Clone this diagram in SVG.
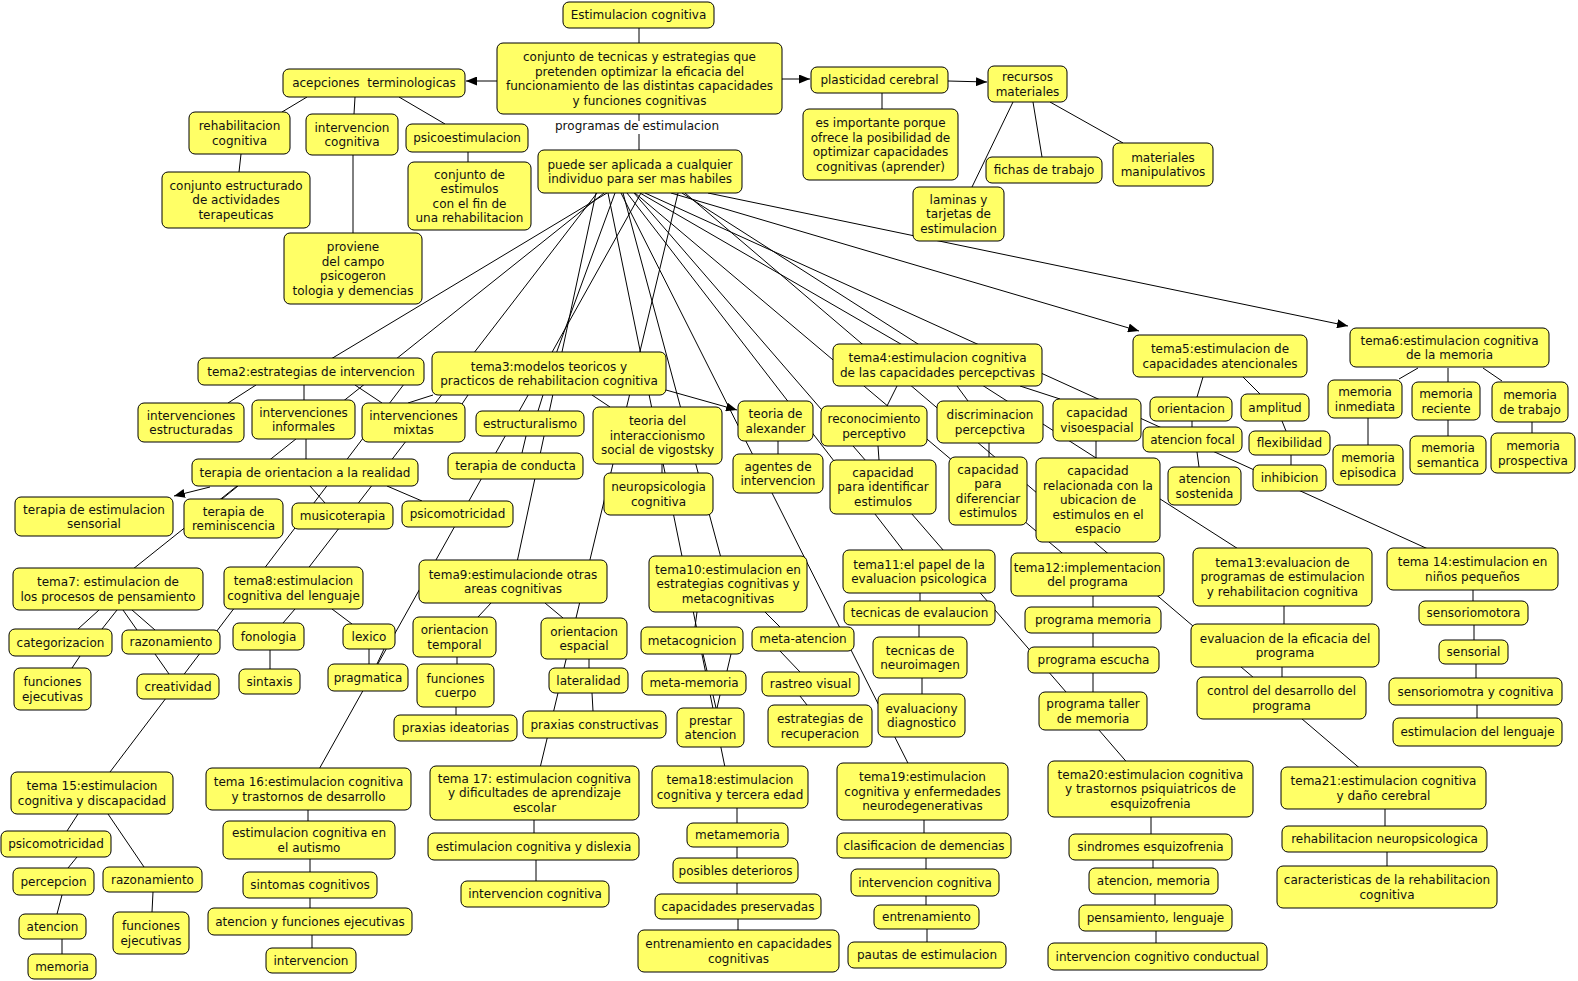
<svg xmlns="http://www.w3.org/2000/svg" width="1578" height="981" viewBox="0 0 1578 981">
<defs>
<style>
.n rect{fill:#ffff66;stroke:#000;stroke-width:1}
.n text,.lbl{font-family:"DejaVu Sans",Verdana,sans-serif;font-size:12px;fill:#111;text-anchor:middle}
#links line{stroke:#000;stroke-width:1;fill:none}
</style>
<marker id="ah" viewBox="0 0 11 9" refX="11" refY="4.5" markerWidth="11" markerHeight="9" markerUnits="userSpaceOnUse" orient="auto"><path d="M0,0 L11,4.5 L0,9 z" fill="#000"/></marker>
</defs>
<rect width="1578" height="981" fill="#fff"/>
<g id="links">
<line x1="607" y1="193" x2="311" y2="371"/>
<line x1="615" y1="193" x2="549" y2="373"/>
<line x1="640" y1="193" x2="937" y2="365"/>
<line x1="671" y1="193" x2="1139" y2="331" marker-end="url(#ah)"/>
<line x1="708" y1="193" x2="1348" y2="326" marker-end="url(#ah)"/>
<line x1="604" y1="193" x2="108" y2="589"/>
<line x1="597" y1="193" x2="293" y2="588"/>
<line x1="596" y1="193" x2="513" y2="581"/>
<line x1="623" y1="193" x2="728" y2="584"/>
<line x1="627" y1="193" x2="919" y2="571"/>
<line x1="635" y1="193" x2="1087" y2="574"/>
<line x1="682" y1="193" x2="1282" y2="577"/>
<line x1="645" y1="193" x2="1472" y2="569"/>
<line x1="420" y1="363" x2="110" y2="772"/>
<line x1="641" y1="193" x2="308" y2="789"/>
<line x1="678" y1="193" x2="534" y2="793"/>
<line x1="608" y1="193" x2="729" y2="787"/>
<line x1="621" y1="193" x2="922" y2="791"/>
<line x1="634" y1="193" x2="1150" y2="789"/>
<line x1="685" y1="193" x2="1383" y2="788"/>
<line x1="639" y1="28" x2="639" y2="43"/>
<line x1="639" y1="114" x2="639" y2="121"/>
<line x1="639" y1="134" x2="639" y2="150"/>
<line x1="497" y1="81" x2="466" y2="81" marker-end="url(#ah)"/>
<line x1="782" y1="79" x2="810" y2="79" marker-end="url(#ah)"/>
<line x1="948" y1="81" x2="987" y2="82" marker-end="url(#ah)"/>
<line x1="882" y1="93" x2="882" y2="109"/>
<line x1="1033" y1="102" x2="1042" y2="157"/>
<line x1="1050" y1="102" x2="1123" y2="143"/>
<line x1="1013" y1="102" x2="972" y2="187"/>
<line x1="307" y1="97" x2="282" y2="112"/>
<line x1="355" y1="97" x2="354" y2="114"/>
<line x1="399" y1="97" x2="445" y2="124"/>
<line x1="241" y1="154" x2="239" y2="172"/>
<line x1="353" y1="155" x2="353" y2="233"/>
<line x1="468" y1="152" x2="468" y2="162"/>
<line x1="256" y1="385" x2="228" y2="403"/>
<line x1="304" y1="385" x2="304" y2="400"/>
<line x1="355" y1="385" x2="382" y2="403"/>
<line x1="306" y1="439" x2="306" y2="459"/>
<line x1="210" y1="487" x2="174" y2="496" marker-end="url(#ah)"/>
<line x1="238" y1="486" x2="222" y2="499"/>
<line x1="310" y1="486" x2="325" y2="503"/>
<line x1="387" y1="486" x2="422" y2="501"/>
<line x1="543" y1="395" x2="538" y2="411"/>
<line x1="433" y1="395" x2="408" y2="403"/>
<line x1="468" y1="395" x2="462" y2="404"/>
<line x1="526" y1="436" x2="522" y2="453"/>
<line x1="592" y1="395" x2="610" y2="407"/>
<line x1="662" y1="464" x2="662" y2="473"/>
<line x1="666" y1="390" x2="737" y2="410" marker-end="url(#ah)"/>
<line x1="778" y1="441" x2="778" y2="454"/>
<line x1="897" y1="386" x2="887" y2="406"/>
<line x1="957" y1="386" x2="968" y2="401"/>
<line x1="1020" y1="386" x2="1060" y2="399"/>
<line x1="878" y1="446" x2="879" y2="460"/>
<line x1="989" y1="443" x2="989" y2="457"/>
<line x1="1096" y1="441" x2="1096" y2="458"/>
<line x1="1203" y1="377" x2="1197" y2="397"/>
<line x1="1243" y1="377" x2="1260" y2="394"/>
<line x1="1192" y1="421" x2="1192" y2="427"/>
<line x1="1282" y1="421" x2="1286" y2="431"/>
<line x1="1291" y1="455" x2="1291" y2="465"/>
<line x1="1197" y1="452" x2="1199" y2="467"/>
<line x1="1418" y1="368" x2="1399" y2="379"/>
<line x1="1448" y1="368" x2="1448" y2="382"/>
<line x1="1483" y1="368" x2="1502" y2="381"/>
<line x1="1368" y1="418" x2="1368" y2="445"/>
<line x1="1448" y1="420" x2="1448" y2="436"/>
<line x1="1532" y1="422" x2="1532" y2="433"/>
<line x1="99" y1="610" x2="78" y2="629"/>
<line x1="117" y1="610" x2="102" y2="629"/>
<line x1="123" y1="610" x2="137" y2="630"/>
<line x1="132" y1="610" x2="155" y2="630"/>
<line x1="80" y1="656" x2="72" y2="668"/>
<line x1="155" y1="654" x2="169" y2="674"/>
<line x1="295" y1="609" x2="283" y2="623"/>
<line x1="332" y1="609" x2="352" y2="624"/>
<line x1="270" y1="650" x2="270" y2="669"/>
<line x1="369" y1="649" x2="369" y2="664"/>
<line x1="384" y1="649" x2="377" y2="664"/>
<line x1="78" y1="814" x2="67" y2="831"/>
<line x1="108" y1="814" x2="144" y2="867"/>
<line x1="77" y1="857" x2="68" y2="868"/>
<line x1="62" y1="895" x2="57" y2="914"/>
<line x1="62" y1="939" x2="62" y2="954"/>
<line x1="153" y1="892" x2="152" y2="912"/>
<line x1="308" y1="810" x2="308" y2="821"/>
<line x1="310" y1="859" x2="310" y2="872"/>
<line x1="310" y1="898" x2="310" y2="908"/>
<line x1="312" y1="935" x2="312" y2="948"/>
<line x1="491" y1="603" x2="478" y2="617"/>
<line x1="545" y1="603" x2="563" y2="618"/>
<line x1="457" y1="657" x2="457" y2="664"/>
<line x1="456" y1="707" x2="456" y2="715"/>
<line x1="589" y1="659" x2="589" y2="668"/>
<line x1="592" y1="693" x2="593" y2="711"/>
<line x1="534" y1="820" x2="534" y2="833"/>
<line x1="536" y1="860" x2="536" y2="881"/>
<line x1="697" y1="612" x2="695" y2="627"/>
<line x1="765" y1="612" x2="780" y2="627"/>
<line x1="703" y1="654" x2="707" y2="671"/>
<line x1="731" y1="654" x2="727" y2="671"/>
<line x1="713" y1="695" x2="716" y2="708"/>
<line x1="720" y1="695" x2="717" y2="708"/>
<line x1="780" y1="651" x2="800" y2="672"/>
<line x1="800" y1="696" x2="807" y2="705"/>
<line x1="737" y1="808" x2="737" y2="823"/>
<line x1="737" y1="847" x2="737" y2="858"/>
<line x1="737" y1="883" x2="737" y2="894"/>
<line x1="738" y1="919" x2="738" y2="930"/>
<line x1="920" y1="593" x2="920" y2="601"/>
<line x1="919" y1="625" x2="919" y2="637"/>
<line x1="922" y1="678" x2="922" y2="694"/>
<line x1="924" y1="820" x2="924" y2="833"/>
<line x1="926" y1="858" x2="926" y2="869"/>
<line x1="926" y1="896" x2="926" y2="905"/>
<line x1="927" y1="929" x2="927" y2="942"/>
<line x1="1093" y1="596" x2="1093" y2="607"/>
<line x1="1093" y1="633" x2="1093" y2="647"/>
<line x1="1093" y1="673" x2="1093" y2="692"/>
<line x1="1151" y1="817" x2="1151" y2="834"/>
<line x1="1153" y1="860" x2="1153" y2="868"/>
<line x1="1155" y1="894" x2="1155" y2="905"/>
<line x1="1156" y1="931" x2="1156" y2="943"/>
<line x1="1284" y1="606" x2="1284" y2="624"/>
<line x1="1282" y1="667" x2="1282" y2="677"/>
<line x1="1473" y1="590" x2="1473" y2="601"/>
<line x1="1474" y1="625" x2="1474" y2="640"/>
<line x1="1476" y1="664" x2="1476" y2="678"/>
<line x1="1477" y1="705" x2="1477" y2="718"/>
<line x1="1385" y1="809" x2="1385" y2="826"/>
<line x1="1387" y1="852" x2="1387" y2="866"/>
</g>
<text class="lbl" x="637" y="130">programas de estimulacion</text>
<g id="n_estim" class="n"><rect x="563" y="2" width="151" height="26" rx="6"/><text><tspan x="638.5" y="19.2">Estimulacion cognitiva</tspan></text></g>
<g id="n_conjunto" class="n"><rect x="497" y="43" width="285" height="71" rx="6"/><text><tspan x="639.5" y="61">conjunto de tecnicas y estrategias que</tspan><tspan x="639.5" y="75.5">pretenden optimizar la eficacia del</tspan><tspan x="639.5" y="90">funcionamiento de las distintas capacidades</tspan><tspan x="639.5" y="104.5">y funciones cognitivas</tspan></text></g>
<g id="n_acep" class="n"><rect x="283" y="69" width="182" height="28" rx="6"/><text style="white-space:pre"><tspan x="374" y="87.2">acepciones  terminologicas</tspan></text></g>
<g id="n_rehab" class="n"><rect x="189" y="112" width="101" height="42" rx="6"/><text><tspan x="239.5" y="130">rehabilitacion</tspan><tspan x="239.5" y="144.5">cognitiva</tspan></text></g>
<g id="n_interv" class="n"><rect x="306" y="114" width="92" height="41" rx="6"/><text><tspan x="352" y="131.5">intervencion</tspan><tspan x="352" y="146">cognitiva</tspan></text></g>
<g id="n_psicoe" class="n"><rect x="406" y="124" width="122" height="28" rx="6"/><text><tspan x="467" y="142.2">psicoestimulacion</tspan></text></g>
<g id="n_cestr" class="n"><rect x="162" y="172" width="148" height="56" rx="6"/><text><tspan x="236" y="189.7">conjunto estructurado</tspan><tspan x="236" y="204.2">de actividades</tspan><tspan x="236" y="218.7">terapeuticas</tspan></text></g>
<g id="n_proviene" class="n"><rect x="284" y="233" width="138" height="71" rx="6"/><text><tspan x="353" y="251">proviene</tspan><tspan x="353" y="265.5">del campo</tspan><tspan x="353" y="280">psicogeron</tspan><tspan x="353" y="294.5">tologia y demencias</tspan></text></g>
<g id="n_cestim" class="n"><rect x="408" y="162" width="123" height="68" rx="6"/><text><tspan x="469.5" y="178.5">conjunto de</tspan><tspan x="469.5" y="193">estimulos</tspan><tspan x="469.5" y="207.5">con el fin de</tspan><tspan x="469.5" y="222">una rehabilitacion</tspan></text></g>
<g id="n_puede" class="n"><rect x="538" y="150" width="204" height="43" rx="6"/><text><tspan x="640" y="168.5">puede ser aplicada a cualquier</tspan><tspan x="640" y="183">individuo para ser mas habiles</tspan></text></g>
<g id="n_plast" class="n"><rect x="811" y="67" width="137" height="26" rx="6"/><text><tspan x="879.5" y="84.2">plasticidad cerebral</tspan></text></g>
<g id="n_recursos" class="n"><rect x="988" y="66" width="79" height="36" rx="6"/><text><tspan x="1027.5" y="81">recursos</tspan><tspan x="1027.5" y="95.5">materiales</tspan></text></g>
<g id="n_esimp" class="n"><rect x="803" y="109" width="155" height="71" rx="6"/><text><tspan x="880.5" y="127">es importante porque</tspan><tspan x="880.5" y="141.5">ofrece la posibilidad de</tspan><tspan x="880.5" y="156">optimizar capacidades</tspan><tspan x="880.5" y="170.5">cognitivas (aprender)</tspan></text></g>
<g id="n_fichas" class="n"><rect x="986" y="157" width="116" height="26" rx="6"/><text><tspan x="1044" y="174.2">fichas de trabajo</tspan></text></g>
<g id="n_matman" class="n"><rect x="1113" y="143" width="100" height="43" rx="6"/><text><tspan x="1163" y="161.5">materiales</tspan><tspan x="1163" y="176">manipulativos</tspan></text></g>
<g id="n_laminas" class="n"><rect x="913" y="187" width="91" height="54" rx="6"/><text><tspan x="958.5" y="203.7">laminas y</tspan><tspan x="958.5" y="218.2">tarjetas de</tspan><tspan x="958.5" y="232.7">estimulacion</tspan></text></g>
<g id="n_tema2" class="n"><rect x="198" y="358" width="226" height="27" rx="6"/><text><tspan x="311" y="375.7">tema2:estrategias de intervencion</tspan></text></g>
<g id="n_tema3" class="n"><rect x="432" y="352" width="234" height="43" rx="6"/><text><tspan x="549" y="370.5">tema3:modelos teoricos y</tspan><tspan x="549" y="385">practicos de rehabilitacion cognitiva</tspan></text></g>
<g id="n_tema4" class="n"><rect x="833" y="344" width="209" height="42" rx="6"/><text><tspan x="937.5" y="362">tema4:estimulacion cognitiva</tspan><tspan x="937.5" y="376.5">de las capacidades percepctivas</tspan></text></g>
<g id="n_tema5" class="n"><rect x="1133" y="335" width="174" height="42" rx="6"/><text><tspan x="1220" y="353">tema5:estimulacion de</tspan><tspan x="1220" y="367.5">capacidades atencionales</tspan></text></g>
<g id="n_tema6" class="n"><rect x="1350" y="328" width="199" height="39" rx="6"/><text><tspan x="1449.5" y="344.5">tema6:estimulacion cognitiva</tspan><tspan x="1449.5" y="359">de la memoria</tspan></text></g>
<g id="n_iestr" class="n"><rect x="138" y="403" width="106" height="39" rx="6"/><text><tspan x="191" y="419.5">intervenciones</tspan><tspan x="191" y="434">estructuradas</tspan></text></g>
<g id="n_iinf" class="n"><rect x="252" y="400" width="103" height="39" rx="6"/><text><tspan x="303.5" y="416.5">intervenciones</tspan><tspan x="303.5" y="431">informales</tspan></text></g>
<g id="n_imix" class="n"><rect x="362" y="403" width="103" height="39" rx="6"/><text><tspan x="413.5" y="419.5">intervenciones</tspan><tspan x="413.5" y="434">mixtas</tspan></text></g>
<g id="n_tor" class="n"><rect x="192" y="459" width="226" height="27" rx="6"/><text><tspan x="305" y="476.7">terapia de orientacion a la realidad</tspan></text></g>
<g id="n_tes" class="n"><rect x="15" y="497" width="158" height="39" rx="6"/><text><tspan x="94" y="513.5">terapia de estimulacion</tspan><tspan x="94" y="528">sensorial</tspan></text></g>
<g id="n_trem" class="n"><rect x="184" y="499" width="99" height="39" rx="6"/><text><tspan x="233.5" y="515.5">terapia de</tspan><tspan x="233.5" y="530">reminiscencia</tspan></text></g>
<g id="n_musico" class="n"><rect x="292" y="503" width="101" height="26" rx="6"/><text><tspan x="342.5" y="520.2">musicoterapia</tspan></text></g>
<g id="n_psicom" class="n"><rect x="402" y="501" width="111" height="26" rx="6"/><text><tspan x="457.5" y="518.2">psicomotricidad</tspan></text></g>
<g id="n_estruc" class="n"><rect x="476" y="411" width="108" height="25" rx="6"/><text><tspan x="530" y="427.7">estructuralismo</tspan></text></g>
<g id="n_tcond" class="n"><rect x="448" y="453" width="135" height="26" rx="6"/><text><tspan x="515.5" y="470.2">terapia de conducta</tspan></text></g>
<g id="n_vigo" class="n"><rect x="593" y="407" width="129" height="57" rx="6"/><text><tspan x="657.5" y="425.2">teoria del</tspan><tspan x="657.5" y="439.7">interaccionismo</tspan><tspan x="657.5" y="454.2">social de vigostsky</tspan></text></g>
<g id="n_neuro" class="n"><rect x="604" y="473" width="109" height="42" rx="6"/><text><tspan x="658.5" y="491">neuropsicologia</tspan><tspan x="658.5" y="505.5">cognitiva</tspan></text></g>
<g id="n_alex" class="n"><rect x="738" y="401" width="75" height="40" rx="6"/><text><tspan x="775.5" y="418">teoria de</tspan><tspan x="775.5" y="432.5">alexander</tspan></text></g>
<g id="n_agentes" class="n"><rect x="733" y="454" width="90" height="39" rx="6"/><text><tspan x="778" y="470.5">agentes de</tspan><tspan x="778" y="485">intervencion</tspan></text></g>
<g id="n_recon" class="n"><rect x="821" y="406" width="106" height="40" rx="6"/><text><tspan x="874" y="423">reconocimiento</tspan><tspan x="874" y="437.5">perceptivo</tspan></text></g>
<g id="n_discr" class="n"><rect x="937" y="401" width="106" height="42" rx="6"/><text><tspan x="990" y="419">discriminacion</tspan><tspan x="990" y="433.5">percepctiva</tspan></text></g>
<g id="n_visoe" class="n"><rect x="1053" y="399" width="88" height="42" rx="6"/><text><tspan x="1097" y="417">capacidad</tspan><tspan x="1097" y="431.5">visoespacial</tspan></text></g>
<g id="n_ident" class="n"><rect x="830" y="460" width="106" height="54" rx="6"/><text><tspan x="883" y="476.7">capacidad</tspan><tspan x="883" y="491.2">para identificar</tspan><tspan x="883" y="505.7">estimulos</tspan></text></g>
<g id="n_difer" class="n"><rect x="949" y="457" width="78" height="68" rx="6"/><text><tspan x="988" y="473.5">capacidad</tspan><tspan x="988" y="488">para</tspan><tspan x="988" y="502.5">diferenciar</tspan><tspan x="988" y="517">estimulos</tspan></text></g>
<g id="n_relac" class="n"><rect x="1036" y="458" width="124" height="84" rx="6"/><text><tspan x="1098" y="475.2">capacidad</tspan><tspan x="1098" y="489.7">relacionada con la</tspan><tspan x="1098" y="504.2">ubicacion de</tspan><tspan x="1098" y="518.7">estimulos en el</tspan><tspan x="1098" y="533.2">espacio</tspan></text></g>
<g id="n_orient5" class="n"><rect x="1150" y="397" width="82" height="24" rx="6"/><text><tspan x="1191" y="413.2">orientacion</tspan></text></g>
<g id="n_ampl" class="n"><rect x="1241" y="394" width="68" height="27" rx="6"/><text><tspan x="1275" y="411.7">amplitud</tspan></text></g>
<g id="n_focal" class="n"><rect x="1143" y="427" width="99" height="25" rx="6"/><text><tspan x="1192.5" y="443.7">atencion focal</tspan></text></g>
<g id="n_flex" class="n"><rect x="1249" y="431" width="81" height="24" rx="6"/><text><tspan x="1289.5" y="447.2">flexibilidad</tspan></text></g>
<g id="n_sost" class="n"><rect x="1168" y="467" width="73" height="38" rx="6"/><text><tspan x="1204.5" y="483">atencion</tspan><tspan x="1204.5" y="497.5">sostenida</tspan></text></g>
<g id="n_inhib" class="n"><rect x="1253" y="465" width="73" height="26" rx="6"/><text><tspan x="1289.5" y="482.2">inhibicion</tspan></text></g>
<g id="n_minm" class="n"><rect x="1328" y="380" width="74" height="38" rx="6"/><text><tspan x="1365" y="396">memoria</tspan><tspan x="1365" y="410.5">inmediata</tspan></text></g>
<g id="n_mrec" class="n"><rect x="1412" y="382" width="68" height="38" rx="6"/><text><tspan x="1446" y="398">memoria</tspan><tspan x="1446" y="412.5">reciente</tspan></text></g>
<g id="n_mtrab" class="n"><rect x="1492" y="382" width="76" height="40" rx="6"/><text><tspan x="1530" y="399">memoria</tspan><tspan x="1530" y="413.5">de trabajo</tspan></text></g>
<g id="n_mepi" class="n"><rect x="1333" y="445" width="70" height="40" rx="6"/><text><tspan x="1368" y="462">memoria</tspan><tspan x="1368" y="476.5">episodica</tspan></text></g>
<g id="n_msem" class="n"><rect x="1410" y="436" width="76" height="38" rx="6"/><text><tspan x="1448" y="452">memoria</tspan><tspan x="1448" y="466.5">semantica</tspan></text></g>
<g id="n_mpros" class="n"><rect x="1491" y="433" width="84" height="40" rx="6"/><text><tspan x="1533" y="450">memoria</tspan><tspan x="1533" y="464.5">prospectiva</tspan></text></g>
<g id="n_tema7" class="n"><rect x="13" y="568" width="190" height="42" rx="6"/><text><tspan x="108" y="586">tema7: estimulacion de</tspan><tspan x="108" y="600.5">los procesos de pensamiento</tspan></text></g>
<g id="n_tema8" class="n"><rect x="224" y="567" width="139" height="42" rx="6"/><text><tspan x="293.5" y="585">tema8:estimulacion</tspan><tspan x="293.5" y="599.5">cognitiva del lenguaje</tspan></text></g>
<g id="n_categ" class="n"><rect x="9" y="629" width="103" height="27" rx="6"/><text><tspan x="60.5" y="646.7">categorizacion</tspan></text></g>
<g id="n_razon7" class="n"><rect x="122" y="630" width="98" height="24" rx="6"/><text><tspan x="171" y="646.2">razonamiento</tspan></text></g>
<g id="n_fej7" class="n"><rect x="14" y="668" width="77" height="42" rx="6"/><text><tspan x="52.5" y="686">funciones</tspan><tspan x="52.5" y="700.5">ejecutivas</tspan></text></g>
<g id="n_creat" class="n"><rect x="137" y="674" width="82" height="25" rx="6"/><text><tspan x="178" y="690.7">creatividad</tspan></text></g>
<g id="n_fonol" class="n"><rect x="233" y="623" width="71" height="27" rx="6"/><text><tspan x="268.5" y="640.7">fonologia</tspan></text></g>
<g id="n_sintax" class="n"><rect x="239" y="669" width="61" height="25" rx="6"/><text><tspan x="269.5" y="685.7">sintaxis</tspan></text></g>
<g id="n_lexico" class="n"><rect x="343" y="624" width="52" height="25" rx="6"/><text><tspan x="369" y="640.7">lexico</tspan></text></g>
<g id="n_pragm" class="n"><rect x="328" y="664" width="80" height="27" rx="6"/><text><tspan x="368" y="681.7">pragmatica</tspan></text></g>
<g id="n_tema9" class="n"><rect x="419" y="560" width="188" height="43" rx="6"/><text><tspan x="513" y="578.5">tema9:estimulacionde otras</tspan><tspan x="513" y="593">areas cognitivas</tspan></text></g>
<g id="n_tema10" class="n"><rect x="649" y="556" width="158" height="56" rx="6"/><text><tspan x="728" y="573.7">tema10:estimulacion en</tspan><tspan x="728" y="588.2">estrategias cognitivas y</tspan><tspan x="728" y="602.7">metacognitivas</tspan></text></g>
<g id="n_otemp" class="n"><rect x="413" y="617" width="83" height="40" rx="6"/><text><tspan x="454.5" y="634">orientacion</tspan><tspan x="454.5" y="648.5">temporal</tspan></text></g>
<g id="n_fcuerpo" class="n"><rect x="417" y="664" width="77" height="43" rx="6"/><text><tspan x="455.5" y="682.5">funciones</tspan><tspan x="455.5" y="697">cuerpo</tspan></text></g>
<g id="n_pideat" class="n"><rect x="394" y="715" width="123" height="26" rx="6"/><text><tspan x="455.5" y="732.2">praxias ideatorias</tspan></text></g>
<g id="n_oesp" class="n"><rect x="541" y="618" width="86" height="41" rx="6"/><text><tspan x="584" y="635.5">orientacion</tspan><tspan x="584" y="650">espacial</tspan></text></g>
<g id="n_later" class="n"><rect x="549" y="668" width="79" height="25" rx="6"/><text><tspan x="588.5" y="684.7">lateralidad</tspan></text></g>
<g id="n_pconst" class="n"><rect x="523" y="711" width="143" height="27" rx="6"/><text><tspan x="594.5" y="728.7">praxias constructivas</tspan></text></g>
<g id="n_metac" class="n"><rect x="641" y="627" width="102" height="27" rx="6"/><text><tspan x="692" y="644.7">metacognicion</tspan></text></g>
<g id="n_metaat" class="n"><rect x="752" y="627" width="102" height="24" rx="6"/><text><tspan x="803" y="643.2">meta-atencion</tspan></text></g>
<g id="n_metamem" class="n"><rect x="642" y="671" width="104" height="24" rx="6"/><text><tspan x="694" y="687.2">meta-memoria</tspan></text></g>
<g id="n_rastreo" class="n"><rect x="762" y="672" width="97" height="24" rx="6"/><text><tspan x="810.5" y="688.2">rastreo visual</tspan></text></g>
<g id="n_prestar" class="n"><rect x="677" y="708" width="67" height="39" rx="6"/><text><tspan x="710.5" y="724.5">prestar</tspan><tspan x="710.5" y="739">atencion</tspan></text></g>
<g id="n_estrec" class="n"><rect x="768" y="705" width="104" height="42" rx="6"/><text><tspan x="820" y="723">estrategias de</tspan><tspan x="820" y="737.5">recuperacion</tspan></text></g>
<g id="n_tema11" class="n"><rect x="843" y="550" width="152" height="43" rx="6"/><text><tspan x="919" y="568.5">tema11:el papel de la</tspan><tspan x="919" y="583">evaluacion psicologica</tspan></text></g>
<g id="n_tema12" class="n"><rect x="1011" y="553" width="153" height="43" rx="6"/><text><tspan x="1087.5" y="571.5">tema12:implementacion</tspan><tspan x="1087.5" y="586">del programa</tspan></text></g>
<g id="n_tema13" class="n"><rect x="1193" y="548" width="179" height="58" rx="6"/><text><tspan x="1282.5" y="566.7">tema13:evaluacion de</tspan><tspan x="1282.5" y="581.2">programas de estimulacion</tspan><tspan x="1282.5" y="595.7">y rehabilitacion cognitiva</tspan></text></g>
<g id="n_tema14" class="n"><rect x="1387" y="548" width="171" height="42" rx="6"/><text><tspan x="1472.5" y="566">tema 14:estimulacion en</tspan><tspan x="1472.5" y="580.5">niños pequeños</tspan></text></g>
<g id="n_tecev" class="n"><rect x="844" y="601" width="151" height="24" rx="6"/><text><tspan x="919.5" y="617.2">tecnicas de evalaucion</tspan></text></g>
<g id="n_neuroim" class="n"><rect x="873" y="637" width="94" height="41" rx="6"/><text><tspan x="920" y="654.5">tecnicas de</tspan><tspan x="920" y="669">neuroimagen</tspan></text></g>
<g id="n_evdiag" class="n"><rect x="878" y="694" width="87" height="43" rx="6"/><text><tspan x="921.5" y="712.5">evaluaciony</tspan><tspan x="921.5" y="727">diagnostico</tspan></text></g>
<g id="n_pmem" class="n"><rect x="1025" y="607" width="136" height="26" rx="6"/><text><tspan x="1093" y="624.2">programa memoria</tspan></text></g>
<g id="n_pesc" class="n"><rect x="1028" y="647" width="131" height="26" rx="6"/><text><tspan x="1093.5" y="664.2">programa escucha</tspan></text></g>
<g id="n_ptaller" class="n"><rect x="1039" y="692" width="108" height="38" rx="6"/><text><tspan x="1093" y="708">programa taller</tspan><tspan x="1093" y="722.5">de memoria</tspan></text></g>
<g id="n_efic" class="n"><rect x="1191" y="624" width="188" height="43" rx="6"/><text><tspan x="1285" y="642.5">evaluacion de la eficacia del</tspan><tspan x="1285" y="657">programa</tspan></text></g>
<g id="n_control" class="n"><rect x="1197" y="677" width="169" height="42" rx="6"/><text><tspan x="1281.5" y="695">control del desarrollo del</tspan><tspan x="1281.5" y="709.5">programa</tspan></text></g>
<g id="n_smotora" class="n"><rect x="1419" y="601" width="109" height="24" rx="6"/><text><tspan x="1473.5" y="617.2">sensoriomotora</tspan></text></g>
<g id="n_sensorial" class="n"><rect x="1439" y="640" width="69" height="24" rx="6"/><text><tspan x="1473.5" y="656.2">sensorial</tspan></text></g>
<g id="n_smycog" class="n"><rect x="1389" y="678" width="173" height="27" rx="6"/><text><tspan x="1475.5" y="695.7">sensoriomotra y cognitiva</tspan></text></g>
<g id="n_estleng" class="n"><rect x="1393" y="718" width="169" height="28" rx="6"/><text><tspan x="1477.5" y="736.2">estimulacion del lenguaje</tspan></text></g>
<g id="n_tema15" class="n"><rect x="11" y="772" width="162" height="42" rx="6"/><text><tspan x="92" y="790">tema 15:estimulacion</tspan><tspan x="92" y="804.5">cognitiva y discapacidad</tspan></text></g>
<g id="n_psicom15" class="n"><rect x="1" y="831" width="110" height="26" rx="6"/><text><tspan x="56" y="848.2">psicomotricidad</tspan></text></g>
<g id="n_percep" class="n"><rect x="13" y="868" width="81" height="27" rx="6"/><text><tspan x="53.5" y="885.7">percepcion</tspan></text></g>
<g id="n_razon15" class="n"><rect x="103" y="867" width="99" height="25" rx="6"/><text><tspan x="152.5" y="883.7">razonamiento</tspan></text></g>
<g id="n_atenc15" class="n"><rect x="19" y="914" width="67" height="25" rx="6"/><text><tspan x="52.5" y="930.7">atencion</tspan></text></g>
<g id="n_fej15" class="n"><rect x="113" y="912" width="76" height="42" rx="6"/><text><tspan x="151" y="930">funciones</tspan><tspan x="151" y="944.5">ejecutivas</tspan></text></g>
<g id="n_mem15" class="n"><rect x="28" y="954" width="68" height="25" rx="6"/><text><tspan x="62" y="970.7">memoria</tspan></text></g>
<g id="n_tema16" class="n"><rect x="206" y="768" width="205" height="42" rx="6"/><text><tspan x="308.5" y="786">tema 16:estimulacion cognitiva</tspan><tspan x="308.5" y="800.5">y trastornos de desarrollo</tspan></text></g>
<g id="n_autismo" class="n"><rect x="223" y="821" width="172" height="38" rx="6"/><text><tspan x="309" y="837">estimulacion cognitiva en</tspan><tspan x="309" y="851.5">el autismo</tspan></text></g>
<g id="n_sintom" class="n"><rect x="243" y="872" width="134" height="26" rx="6"/><text><tspan x="310" y="889.2">sintomas cognitivos</tspan></text></g>
<g id="n_atfej" class="n"><rect x="208" y="908" width="204" height="27" rx="6"/><text><tspan x="310" y="925.7">atencion y funciones ejecutivas</tspan></text></g>
<g id="n_interv16" class="n"><rect x="266" y="948" width="90" height="25" rx="6"/><text><tspan x="311" y="964.7">intervencion</tspan></text></g>
<g id="n_tema17" class="n"><rect x="430" y="766" width="209" height="54" rx="6"/><text><tspan x="534.5" y="782.7">tema 17: estimulacion cognitiva</tspan><tspan x="534.5" y="797.2">y dificultades de aprendizaje</tspan><tspan x="534.5" y="811.7">escolar</tspan></text></g>
<g id="n_dislex" class="n"><rect x="428" y="833" width="211" height="27" rx="6"/><text><tspan x="533.5" y="850.7">estimulacion cognitiva y dislexia</tspan></text></g>
<g id="n_icog17" class="n"><rect x="461" y="881" width="148" height="26" rx="6"/><text><tspan x="535" y="898.2">intervencion cognitiva</tspan></text></g>
<g id="n_tema18" class="n"><rect x="652" y="766" width="156" height="42" rx="6"/><text><tspan x="730" y="784">tema18:estimulacion</tspan><tspan x="730" y="798.5">cognitiva y tercera edad</tspan></text></g>
<g id="n_metamemo" class="n"><rect x="687" y="823" width="101" height="24" rx="6"/><text><tspan x="737.5" y="839.2">metamemoria</tspan></text></g>
<g id="n_posdet" class="n"><rect x="673" y="858" width="125" height="25" rx="6"/><text><tspan x="735.5" y="874.7">posibles deterioros</tspan></text></g>
<g id="n_cappres" class="n"><rect x="655" y="894" width="166" height="25" rx="6"/><text><tspan x="738" y="910.7">capacidades preservadas</tspan></text></g>
<g id="n_entcap" class="n"><rect x="638" y="930" width="201" height="42" rx="6"/><text><tspan x="738.5" y="948">entrenamiento en capacidades</tspan><tspan x="738.5" y="962.5">cognitivas</tspan></text></g>
<g id="n_tema19" class="n"><rect x="837" y="763" width="171" height="57" rx="6"/><text><tspan x="922.5" y="781.2">tema19:estimulacion</tspan><tspan x="922.5" y="795.7">cognitiva y enfermedades</tspan><tspan x="922.5" y="810.2">neurodegenerativas</tspan></text></g>
<g id="n_clasif" class="n"><rect x="837" y="833" width="174" height="25" rx="6"/><text><tspan x="924" y="849.7">clasificacion de demencias</tspan></text></g>
<g id="n_icog19" class="n"><rect x="851" y="869" width="148" height="27" rx="6"/><text><tspan x="925" y="886.7">intervencion cognitiva</tspan></text></g>
<g id="n_entren" class="n"><rect x="874" y="905" width="105" height="24" rx="6"/><text><tspan x="926.5" y="921.2">entrenamiento</tspan></text></g>
<g id="n_pautas" class="n"><rect x="848" y="942" width="158" height="26" rx="6"/><text><tspan x="927" y="959.2">pautas de estimulacion</tspan></text></g>
<g id="n_tema20" class="n"><rect x="1048" y="761" width="205" height="56" rx="6"/><text><tspan x="1150.5" y="778.7">tema20:estimulacion cognitiva</tspan><tspan x="1150.5" y="793.2">y trastornos psiquiatricos de</tspan><tspan x="1150.5" y="807.7">esquizofrenia</tspan></text></g>
<g id="n_sindr" class="n"><rect x="1069" y="834" width="163" height="26" rx="6"/><text><tspan x="1150.5" y="851.2">sindromes esquizofrenia</tspan></text></g>
<g id="n_atmem" class="n"><rect x="1089" y="868" width="129" height="26" rx="6"/><text><tspan x="1153.5" y="885.2">atencion, memoria</tspan></text></g>
<g id="n_pensl" class="n"><rect x="1079" y="905" width="153" height="26" rx="6"/><text><tspan x="1155.5" y="922.2">pensamiento, lenguaje</tspan></text></g>
<g id="n_icc" class="n"><rect x="1048" y="943" width="219" height="27" rx="6"/><text><tspan x="1157.5" y="960.7">intervencion cognitivo conductual</tspan></text></g>
<g id="n_tema21" class="n"><rect x="1281" y="767" width="205" height="42" rx="6"/><text><tspan x="1383.5" y="785">tema21:estimulacion cognitiva</tspan><tspan x="1383.5" y="799.5">y daño cerebral</tspan></text></g>
<g id="n_rehneuro" class="n"><rect x="1282" y="826" width="205" height="26" rx="6"/><text><tspan x="1384.5" y="843.2">rehabilitacion neuropsicologica</tspan></text></g>
<g id="n_caract" class="n"><rect x="1277" y="866" width="220" height="42" rx="6"/><text><tspan x="1387" y="884">caracteristicas de la rehabilitacion</tspan><tspan x="1387" y="898.5">cognitiva</tspan></text></g>
</svg>
